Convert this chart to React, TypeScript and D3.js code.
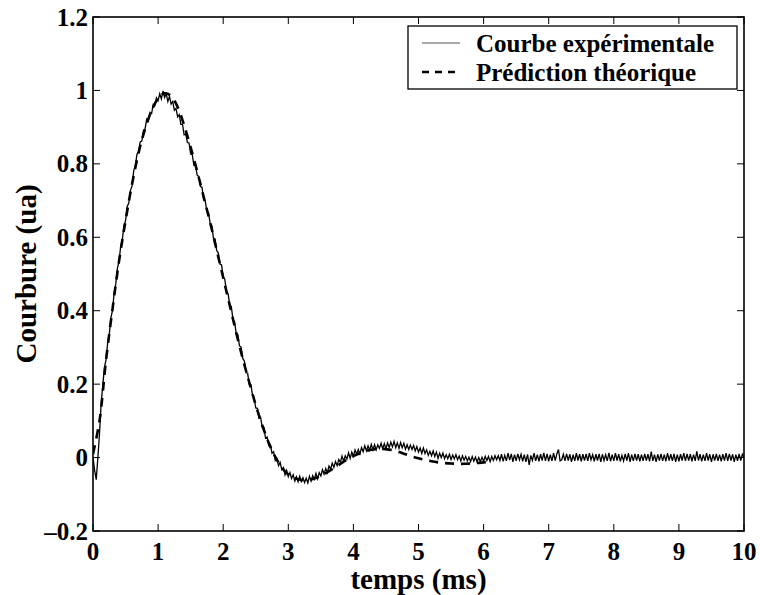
import React from 'react';
import * as d3 from 'd3';

// ---------- data ----------
const X_TICKS = [0, 1, 2, 3, 4, 5, 6, 7, 8, 9, 10];
const Y_TICKS = [-0.2, 0, 0.2, 0.4, 0.6, 0.8, 1, 1.2];
const Y_TICK_LABELS = ['\u20130.2', '0', '0.2', '0.4', '0.6', '0.8', '1', '1.2'];
const SERIES_NAMES = ['Courbe expérimentale', 'Prédiction théorique'];
const X_LABEL = 'temps (ms)';
const Y_LABEL = 'Courbure (ua)';

// experimental curve, sampled from t = 0 ms every 0.025 ms
const EXP_T0 = 0;
const EXP_DT = 0.025;
const expValues = [
  0.000, -0.035, -0.060, 0.001, 0.065, 0.147, 0.196, 0.245, 0.266, 0.312,
  0.335, 0.381, 0.401, 0.449, 0.473, 0.516, 0.534, 0.575, 0.592, 0.632,
  0.645, 0.684, 0.693, 0.728, 0.740, 0.781, 0.794, 0.826, 0.832, 0.860,
  0.862, 0.891, 0.895, 0.922, 0.918, 0.940, 0.937, 0.962, 0.959, 0.980,
  0.972, 0.991, 0.977, 0.999, 0.981, 0.991, 0.970, 0.984, 0.963, 0.970,
  0.946, 0.951, 0.928, 0.934, 0.907, 0.908, 0.879, 0.881, 0.858, 0.857,
  0.827, 0.825, 0.796, 0.798, 0.769, 0.766, 0.739, 0.736, 0.702, 0.698,
  0.670, 0.667, 0.637, 0.632, 0.598, 0.595, 0.564, 0.557, 0.527, 0.525,
  0.492, 0.485, 0.451, 0.446, 0.417, 0.411, 0.376, 0.370, 0.338, 0.335,
  0.304, 0.301, 0.270, 0.263, 0.231, 0.230, 0.200, 0.199, 0.170, 0.163,
  0.135, 0.134, 0.107, 0.109, 0.082, 0.082, 0.053, 0.056, 0.033, 0.035,
  0.012, 0.016, -0.008, -0.003, -0.022, -0.013, -0.033, -0.027, -0.047, -0.035,
  -0.052, -0.041, -0.057, -0.047, -0.064, -0.052, -0.066, -0.051, -0.065, -0.055,
  -0.068, -0.056, -0.069, -0.051, -0.064, -0.049, -0.059, -0.043, -0.058, -0.041,
  -0.050, -0.033, -0.045, -0.030, -0.041, -0.023, -0.031, -0.015, -0.027, -0.011,
  -0.022, -0.005, -0.013, 0.004, -0.010, 0.005, -0.004, 0.013, -0.002, 0.015,
  0.004, 0.021, 0.009, 0.022, 0.010, 0.027, 0.016, 0.032, 0.018, 0.032,
  0.020, 0.036, 0.021, 0.035, 0.021, 0.035, 0.025, 0.039, 0.024, 0.038,
  0.024, 0.040, 0.027, 0.042, 0.029, 0.044, 0.027, 0.040, 0.025, 0.041,
  0.027, 0.039, 0.023, 0.035, 0.022, 0.034, 0.022, 0.033, 0.018, 0.030,
  0.015, 0.026, 0.011, 0.026, 0.011, 0.021, 0.006, 0.017, 0.005, 0.018,
  0.003, 0.015, -0.002, 0.012, 0.000, 0.012, -0.003, 0.008, -0.003, 0.009,
  -0.005, 0.007, -0.004, 0.008, -0.006, 0.004, -0.009, 0.005, -0.007, 0.003,
  -0.009, 0.001, -0.011, 0.003, -0.010, 0.001, -0.012, 0.000, -0.011, 0.001,
  -0.010, 0.003, -0.008, 0.003, -0.011, 0.003, -0.008, 0.005, -0.006, 0.005,
  -0.008, 0.009, -0.010, 0.006, -0.009, 0.012, -0.007, 0.010, -0.012, 0.008,
  -0.009, 0.010, -0.006, 0.009, -0.010, 0.008, -0.012, 0.009, -0.020, 0.006,
  -0.008, 0.012, -0.009, 0.008, -0.010, 0.009, -0.008, 0.013, -0.009, 0.010,
  -0.010, 0.008, -0.009, 0.012, -0.008, 0.010, 0.022, -0.009, -0.006, 0.009,
  -0.009, 0.010, -0.008, 0.009, -0.012, 0.008, -0.009, 0.012, -0.008, 0.009,
  -0.010, 0.009, -0.008, 0.010, -0.009, 0.012, -0.006, 0.008, -0.010, 0.009,
  -0.008, 0.010, -0.012, 0.009, -0.008, 0.008, -0.009, 0.013, -0.010, 0.008,
  -0.009, 0.012, -0.008, 0.009, -0.010, 0.006, -0.009, 0.010, -0.008, 0.012,
  -0.012, 0.008, -0.009, 0.010, -0.008, 0.009, -0.010, 0.008, -0.009, 0.010,
  -0.008, 0.009, -0.010, 0.016, -0.009, 0.008, -0.012, 0.009, -0.008, 0.010,
  -0.009, 0.008, -0.010, 0.012, -0.008, 0.009, -0.009, 0.010, -0.012, 0.008,
  -0.010, 0.009, -0.008, 0.012, -0.009, 0.010, -0.008, 0.009, -0.010, 0.008,
  -0.009, 0.017, -0.008, 0.009, -0.010, 0.008, -0.009, 0.012, -0.008, 0.009,
  -0.012, 0.009, -0.008, 0.010, -0.009, 0.008, -0.010, 0.009, -0.008, 0.012,
  -0.009, 0.010, -0.008, 0.009, -0.012, 0.008, -0.009, 0.010, -0.008, 0.009,
  0.000,
];

// theoretical prediction, sampled from t = 0 ms every 0.1 ms
const THEO_T0 = 0;
const THEO_DT = 0.1;
const theoValues = [
  0.010, 0.100, 0.265, 0.405, 0.535, 0.645, 0.745, 0.830, 0.895, 0.945,
  0.978, 0.992, 0.985, 0.955, 0.905, 0.845, 0.780, 0.710, 0.640, 0.565,
  0.490, 0.415, 0.340, 0.270, 0.205, 0.143, 0.088, 0.040, 0.002, -0.027,
  -0.046, -0.056, -0.061, -0.061, -0.057, -0.050, -0.040, -0.029, -0.017, -0.006,
  0.004, 0.012, 0.018, 0.022, 0.024, 0.023, 0.020, 0.015, 0.009, 0.003,
  -0.002, -0.006, -0.010, -0.013, -0.015, -0.016, -0.017, -0.017, -0.016, -0.015,
  -0.013, -0.011,
];

// ---------- chart ----------
const W = 760;
const H = 595;
const FONT = "'Liberation Serif', 'Times New Roman', Times, serif";

export default function App() {
  const plot = { left: 93, right: 744, top: 17, bottom: 531 };
  const x = d3.scaleLinear().domain([0, 10]).range([plot.left, plot.right]);
  const y = d3.scaleLinear().domain([-0.2, 1.2]).range([plot.bottom, plot.top]);

  const expPts: [number, number][] = expValues.map((v, i) => [EXP_T0 + i * EXP_DT, v]);
  const theoPts: [number, number][] = theoValues.map((v, i) => [THEO_T0 + i * THEO_DT, v]);

  const lineGen = d3
    .line<[number, number]>()
    .x((d) => x(d[0]))
    .y((d) => y(d[1]));
  const theoGen = d3
    .line<[number, number]>()
    .x((d) => x(d[0]))
    .y((d) => y(d[1]))
    .curve(d3.curveCatmullRom);

  const tickLen = 7;
  const lg = { x0: 408, x1: 737, y0: 26, y1: 89 };

  return (
    <svg
      width={W}
      height={H}
      style={{ position: 'absolute', left: 0, top: 0, background: '#fff' }}
      fontFamily={FONT}
      fontWeight="bold"
    >
      <rect x={0} y={0} width={W} height={H} fill="#fff" />
      <defs>
        <clipPath id="plotclip">
          <rect x={plot.left} y={plot.top} width={plot.right - plot.left} height={plot.bottom - plot.top} />
        </clipPath>
      </defs>

      {/* ticks */}
      {X_TICKS.map((t) => (
        <g key={'xt' + t}>
          <line x1={x(t)} x2={x(t)} y1={plot.bottom} y2={plot.bottom - tickLen} stroke="#000" strokeWidth={1} />
          <line x1={x(t)} x2={x(t)} y1={plot.top} y2={plot.top + tickLen} stroke="#000" strokeWidth={1} />
          <text x={x(t)} y={560} textAnchor="middle" fontSize={25}>
            {String(t)}
          </text>
        </g>
      ))}
      {Y_TICKS.map((t, i) => (
        <g key={'yt' + t}>
          <line x1={plot.left} x2={plot.left + tickLen} y1={y(t)} y2={y(t)} stroke="#000" strokeWidth={1} />
          <line x1={plot.right} x2={plot.right - tickLen} y1={y(t)} y2={y(t)} stroke="#000" strokeWidth={1} />
          <text x={88} y={y(t) + 8.5} textAnchor="end" fontSize={25}>
            {Y_TICK_LABELS[i]}
          </text>
        </g>
      ))}

      {/* data */}
      <g clipPath="url(#plotclip)">
        <path d={lineGen(expPts) || ''} fill="none" stroke="#000" strokeWidth={1.3} />
        <path
          d={theoGen(theoPts) || ''}
          fill="none"
          stroke="#000"
          strokeWidth={2.6}
          strokeDasharray="9,7"
        />
      </g>

      {/* frame */}
      <rect
        x={plot.left}
        y={plot.top}
        width={plot.right - plot.left}
        height={plot.bottom - plot.top}
        fill="none"
        stroke="#000"
        strokeWidth={1.6}
      />

      {/* legend */}
      <rect x={lg.x0} y={lg.y0} width={lg.x1 - lg.x0} height={lg.y1 - lg.y0} fill="#fff" stroke="#000" strokeWidth={1.3} />
      <line x1={422} x2={460} y1={43} y2={43} stroke="#555" strokeWidth={1} />
      <text x={476} y={52} fontSize={25}>
        {SERIES_NAMES[0]}
      </text>
      <line x1={422} x2={460} y1={72} y2={72} stroke="#000" strokeWidth={2.6} strokeDasharray="7,6" />
      <text x={476} y={81} fontSize={25}>
        {SERIES_NAMES[1]}
      </text>

      {/* axis labels */}
      <text x={(plot.left + plot.right) / 2} y={589} textAnchor="middle" fontSize={29}>
        {X_LABEL}
      </text>
      <text
        transform={`translate(36, ${(plot.top + plot.bottom) / 2}) rotate(-90)`}
        textAnchor="middle"
        fontSize={29}
      >
        {Y_LABEL}
      </text>
    </svg>
  );
}
